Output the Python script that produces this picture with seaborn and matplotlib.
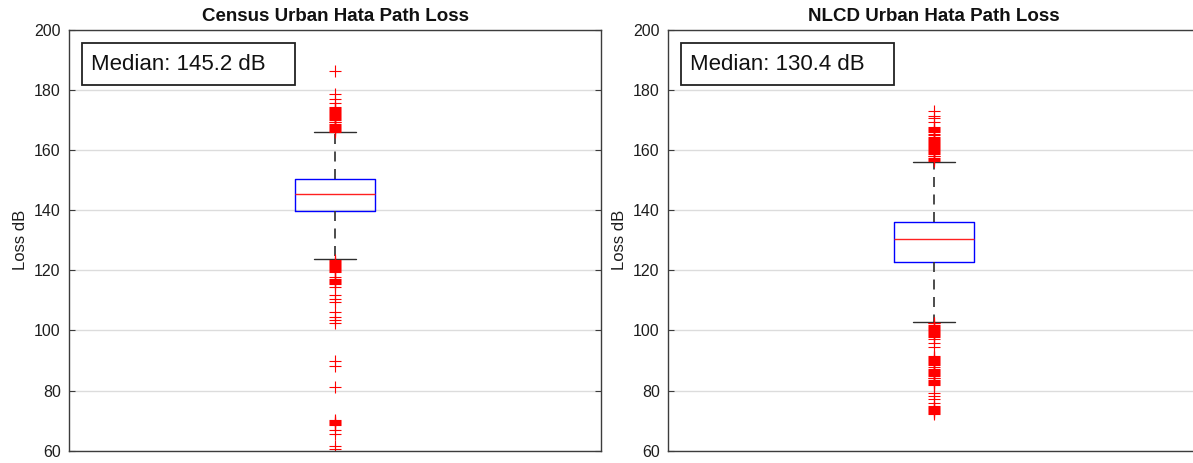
import matplotlib
matplotlib.use("Agg")
import matplotlib.pyplot as plt
from matplotlib.patches import Rectangle
import seaborn as sns

# Box summary statistics (dB)
titles = ["Census Urban Hata Path Loss", "NLCD Urban Hata Path Loss"]
medians = [145.2, 130.4]
q1_values = [139.7, 122.8]
q3_values = [150.3, 136.1]
whisker_low = [123.7, 102.8]
whisker_high = [165.8, 156.1]

census_outliers = [
    186.2, 178.5, 176.8, 175.7,
    174.3, 174.0, 173.6, 173.3, 172.9, 172.6, 172.2, 171.9, 171.5, 171.2,
    170.8, 170.5, 170.1, 169.8, 169.4, 169.1, 168.7, 168.4, 168.0, 167.7,
    167.3, 167.0, 166.6, 166.3, 166.0,
    123.4, 123.1, 122.7, 122.4, 122.0, 121.7, 121.3, 121.0, 120.6, 120.3,
    119.9, 119.6, 119.3, 117.9, 117.2, 116.9, 116.5, 116.2, 115.8, 115.5,
    114.5, 111.9, 110.3, 109.5, 106.1, 104.4, 103.4, 102.3,
    89.8, 88.3, 81.3,
    70.2, 69.9, 69.5, 69.2, 68.9, 68.6, 66.9, 65.5, 61.4, 60.6,
]

nlcd_outliers = [
    173.0, 171.3, 170.5, 169.4,
    167.5, 167.2, 166.8, 166.5, 166.1, 165.8, 165.4, 165.0,
    164.4, 164.1, 163.7, 163.4, 163.0, 162.7, 162.3, 162.0, 161.6, 161.3,
    160.9, 160.6, 160.2, 159.9, 159.5, 159.2, 158.8, 158.5, 158.1, 157.8,
    157.4, 157.1, 156.7, 156.4,
    102.6, 102.3, 101.9, 101.6, 101.2, 100.9, 100.5, 100.2, 99.8, 99.5,
    99.1, 98.8, 98.4, 98.1, 97.7, 97.0, 95.9, 94.6,
    91.6, 91.3, 90.9, 90.6, 90.2, 89.9, 89.5, 89.2, 88.8, 88.5, 87.7,
    87.1, 86.8, 86.4, 86.1, 85.7, 85.4, 85.0, 84.7, 84.3, 84.0, 83.6,
    83.3, 82.9, 82.6, 82.2, 81.9,
    79.3, 78.2, 77.1, 76.0, 74.9,
    74.6, 74.3, 73.9, 73.6, 73.2, 72.9, 72.5, 72.2,
]
outlier_sets = [census_outliers, nlcd_outliers]

y_ticks = [60, 80, 100, 120, 140, 160, 180, 200]

sns.set_style("white")
plt.rcParams["font.family"] = ["Liberation Sans", "DejaVu Sans"]

W, H = 1193, 463
fig = plt.figure(figsize=(W / 100, H / 100), dpi=100)
ax_bottom = 1 - 450.7 / H
ax_height = (450.7 - 29.5) / H
axes = [
    fig.add_axes([69 / W, ax_bottom, 532 / W, ax_height]),
    fig.add_axes([668 / W, ax_bottom, 532 / W, ax_height]),
]

for i, ax in enumerate(axes):
    stats = [{
        "med": medians[i],
        "q1": q1_values[i],
        "q3": q3_values[i],
        "whislo": whisker_low[i],
        "whishi": whisker_high[i],
        "fliers": outlier_sets[i],
    }]
    ax.bxp(
        stats,
        positions=[1],
        widths=0.15,
        capwidths=0.079,
        showfliers=True,
        boxprops=dict(color="#0000ff", linewidth=1.0),
        medianprops=dict(color="#ff2020", linewidth=1.0),
        whiskerprops=dict(color="#2e2e2e", linewidth=1.2, linestyle=(0, (6.0, 4.5))),
        capprops=dict(color="#2e2e2e", linewidth=1.0),
        flierprops=dict(marker="+", markeredgecolor="#ff0000", markersize=8.5,
                        markeredgewidth=0.8, linestyle="none"),
    )
    ax.set_xlim(0.5, 1.5)
    ax.set_ylim(60, 200)
    ax.set_yticks(y_ticks)
    ax.set_xticks([])
    ax.yaxis.grid(True, color="#dcdcdc", linewidth=1.0)
    ax.set_axisbelow(True)
    for spine in ax.spines.values():
        spine.set_color("#3c3c3c")
        spine.set_linewidth(1.0)
    ax.tick_params(axis="y", direction="in", length=4, width=0.8, color="#3c3c3c",
                   labelsize=11.5, pad=6, right=True, left=True, labelcolor="#1e1e1e")
    ax.set_ylabel("Loss dB", fontsize=12, labelpad=4, color="#1e1e1e")
    ax.set_title(titles[i], fontsize=13.5, fontweight="bold", pad=6, color="#111111")

    # median annotation box
    ax.add_patch(Rectangle((0.025, 0.868), 0.400, 0.100, transform=ax.transAxes,
                           facecolor="white", edgecolor="#222222", linewidth=1.3,
                           zorder=5))
    ax.text(0.041, 0.918, f"Median: {medians[i]:.1f} dB", transform=ax.transAxes,
            fontsize=16, va="center", ha="left", color="#111111", zorder=6)

fig.savefig("out.png", dpi=100)
